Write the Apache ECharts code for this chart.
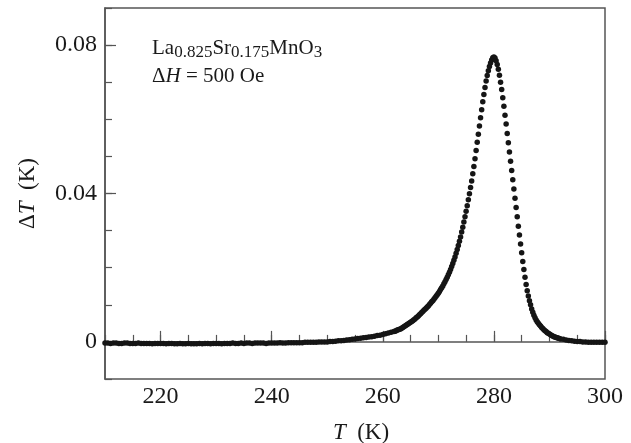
<!DOCTYPE html>
<html>
<head>
<meta charset="utf-8">
<script src="https://cdn.jsdelivr.net/npm/echarts@6/dist/echarts.min.js"></script>
<style>html,body{margin:0;padding:0;background:#fff}#c{width:631px;height:443px}</style>
</head>
<body>
<div id="c"></div>
<script>
// Temperatures (K)
var temps = [
210,210.5,211,211.5,212,212.5,213,213.5,214,214.5,215,215.5,216,216.5,217,217.5,218,218.5,219,219.5,
220,220.5,221,221.5,222,222.5,223,223.5,224,224.5,225,225.5,226,226.5,227,227.5,228,228.5,229,229.5,
230,230.5,231,231.5,232,232.5,233,233.5,234,234.5,235,235.5,236,236.5,237,237.5,238,238.5,239,239.5,
240,240.5,241,241.5,242,242.5,243,243.5,244,244.5,245,245.5,246,246.5,247,247.5,248,248.5,249,249.5,
250,250.5,251,251.5,252,252.5,253,253.5,254,254.5,255,255.5,256,256.5,257,257.5,258,258.5,259,259.5,
260,260.5,261,261.5,
262,262.2,262.4,262.6,262.8,263,263.2,263.4,263.6,263.8,264,264.2,264.4,264.6,264.8,265,265.2,265.4,265.6,265.8,
266,266.2,266.4,266.6,266.8,267,267.2,267.4,267.6,267.8,268,268.2,268.4,268.6,268.8,269,269.2,269.4,269.6,269.8,
270,270.2,270.4,270.6,270.8,271,271.2,271.4,271.6,271.8,272,272.2,272.4,272.6,272.8,273,273.2,273.4,273.6,273.8,
274,274.2,274.4,274.6,274.8,275,275.2,275.4,275.6,275.8,276,276.2,276.4,276.6,276.8,277,277.2,277.4,277.6,277.8,
278,278.2,278.4,278.6,278.8,279,279.2,279.4,279.6,279.8,280,
280.2,280.4,280.6,280.8,281,281.2,281.4,281.6,281.8,282,282.2,282.4,282.6,282.8,283,283.2,283.4,283.6,283.8,284,
284.2,284.4,284.6,284.8,285,285.2,285.4,285.6,285.8,286,286.2,286.4,286.6,286.8,287,287.2,287.4,287.6,287.8,288,
288.2,288.4,288.6,288.8,289,289.2,289.4,289.6,289.8,290,290.2,290.4,290.6,290.8,291,291.2,291.4,291.6,291.8,292,
292.5,293,293.5,294,294.5,295,295.5,296,296.5,297,297.5,298,298.5,299,299.5,300
];
// Temperature change ΔT (K)
var deltaT = [
-0.0003,-0.0003,-0.0004,-0.0003,-0.0003,-0.0004,-0.0004,-0.0003,-0.0003,-0.0004,-0.0004,-0.0004,-0.0003,-0.0004,-0.0004,-0.0004,-0.0004,-0.0005,-0.0004,-0.0004,
-0.0004,-0.0004,-0.0005,-0.0004,-0.0004,-0.0005,-0.0005,-0.0004,-0.0005,-0.0005,-0.0004,-0.0005,-0.0005,-0.0005,-0.0004,-0.0005,-0.0004,-0.0004,-0.0005,-0.0004,
-0.0004,-0.0004,-0.0005,-0.0004,-0.0004,-0.0004,-0.0003,-0.0004,-0.0004,-0.0003,-0.0004,-0.0003,-0.0003,-0.0004,-0.0003,-0.0003,-0.0003,-0.0003,-0.0004,-0.0003,
-0.0003,-0.0003,-0.0003,-0.0002,-0.0003,-0.0003,-0.0002,-0.0002,-0.0002,-0.0002,-0.0002,-0.0002,-0.0001,-0.0001,-0.0001,-0.0001,-0.0001,0.0000,0.0000,0.0000,
0.0000,0.0001,0.0001,0.0002,0.0003,0.0003,0.0004,0.0005,0.0006,0.0007,0.0008,0.0009,0.0010,0.0011,0.0012,0.0013,0.0014,0.0015,0.0017,0.0018,
0.0020,0.0022,0.0024,0.0026,
0.0028,0.0029,0.0030,0.0032,0.0033,0.0034,0.0035,0.0037,0.0039,0.0041,0.0043,0.0045,0.0047,0.0049,0.0051,0.0053,0.0055,0.0057,0.0060,0.0062,
0.0065,0.0067,0.0070,0.0073,0.0076,0.0079,0.0082,0.0085,0.0088,0.0091,0.0094,0.0097,0.0101,0.0104,0.0108,0.0111,0.0115,0.0119,0.0123,0.0127,
0.0131,0.0136,0.0141,0.0146,0.0151,0.0157,0.0162,0.0168,0.0174,0.0181,0.0188,0.0195,0.0203,0.0211,0.0220,0.0229,0.0239,0.0249,0.0260,0.0271,
0.0283,0.0296,0.0309,0.0323,0.0337,0.0352,0.0367,0.0383,0.0399,0.0416,0.0434,0.0453,0.0473,0.0494,0.0516,0.0538,0.0560,0.0582,0.0604,0.0626,
0.0647,0.0667,0.0686,0.0703,0.0718,0.0731,0.0742,0.0752,0.0760,0.0766,0.0768,
0.0765,0.0758,0.0748,0.0735,0.0719,0.0700,0.0680,0.0658,0.0635,0.0611,0.0587,0.0562,0.0537,0.0512,0.0487,0.0462,0.0437,0.0412,0.0387,0.0362,
0.0337,0.0312,0.0288,0.0264,0.0240,0.0217,0.0195,0.0174,0.0155,0.0138,0.0124,0.0111,0.0100,0.0089,0.0080,0.0072,0.0065,0.0059,0.0054,0.0050,
0.0046,0.0043,0.0039,0.0036,0.0033,0.0030,0.0028,0.0025,0.0023,0.0021,0.0019,0.0017,0.0016,0.0014,0.0013,0.0012,0.0011,0.0010,0.0009,0.0008,
0.0007,0.0005,0.0004,0.0003,0.0002,0.0001,0.0001,0.0000,0.0000,-0.0001,-0.0001,-0.0001,-0.0001,-0.0001,-0.0001,-0.0001
];
var xMajorTicks = [220, 240, 260, 280, 300];
var yMajorTicks = [0, 0.04, 0.08];

var FONT = '"Liberation Serif","Times New Roman",serif';
var AX = '#555';
var TXT = '#1a1a1a';

var points = temps.map(function (t, i) { return [t, deltaT[i]]; });

var chart = echarts.init(document.getElementById('c'), null, {renderer: 'canvas'});
chart.setOption({
  animation: false,
  backgroundColor: '#fff',
  grid: {left: 105, right: 26, top: 8, bottom: 64, show: true, borderColor: AX, borderWidth: 1.5,
    containLabel: false, outerBoundsMode: 'none'},
  xAxis: [{
    type: 'value', min: 210, max: 300, interval: 5, position: 'bottom',
    axisLine: {show: true, lineStyle: {color: AX, width: 1.5}},
    axisTick: {show: true, inside: true, length: 7, lineStyle: {color: AX, width: 1.2}},
    axisLabel: {show: false}, splitLine: {show: false}
  }, {
    type: 'value', min: 210, max: 300, position: 'bottom',
    axisLine: {show: false},
    axisTick: {show: true, inside: true, length: 11, customValues: xMajorTicks, lineStyle: {color: AX, width: 1.2}},
    axisLabel: {show: true, customValues: xMajorTicks, fontFamily: FONT, fontSize: 24, color: TXT, margin: 6},
    splitLine: {show: false},
    name: '{i|T}  (K)', nameLocation: 'middle', nameGap: 42,
    nameTextStyle: {fontFamily: FONT, fontSize: 23, color: TXT, padding: [0, 0, 0, 12],
      rich: {i: {fontFamily: FONT, fontSize: 23, fontStyle: 'italic', color: TXT}}}
  }],
  yAxis: [{
    type: 'value', min: -0.01, max: 0.09, interval: 0.01, position: 'left',
    axisLine: {show: true, lineStyle: {color: AX, width: 1.5}},
    axisTick: {show: true, inside: true, length: 7, lineStyle: {color: AX, width: 1.2}},
    axisLabel: {show: false}, splitLine: {show: false}
  }, {
    type: 'value', min: -0.01, max: 0.09, position: 'left',
    axisLine: {show: false},
    axisTick: {show: true, inside: true, length: 11, customValues: yMajorTicks, lineStyle: {color: AX, width: 1.2}},
    axisLabel: {show: true, customValues: yMajorTicks, fontFamily: FONT, fontSize: 24, color: TXT, margin: 8},
    splitLine: {show: false},
    name: '\u0394{i|T}  (K)', nameLocation: 'middle', nameGap: 66,
    nameTextStyle: {fontFamily: FONT, fontSize: 23, color: TXT,
      rich: {i: {fontFamily: FONT, fontSize: 23, fontStyle: 'italic', color: TXT}}}
  }],
  graphic: [{
    type: 'text', left: 152, top: 38,
    style: {
      text: '{n|La}{s|0.825}{n|Sr}{s|0.175}{n|MnO}{s|3}',
      fill: TXT,
      rich: {
        n: {fontFamily: FONT, fontSize: 21, lineHeight: 26, fill: TXT},
        s: {fontFamily: FONT, fontSize: 17, lineHeight: 14, verticalAlign: 'bottom', fill: TXT}
      }
    }
  }, {
    type: 'text', left: 152, top: 66,
    style: {
      text: '{n|\u0394}{i|H}{n| = 500 Oe}',
      fill: TXT,
      rich: {
        n: {fontFamily: FONT, fontSize: 21, lineHeight: 26, fill: TXT},
        i: {fontFamily: FONT, fontSize: 21, lineHeight: 26, fontStyle: 'italic', fill: TXT}
      }
    }
  }],
  series: [{
    type: 'scatter', xAxisIndex: 0, yAxisIndex: 0,
    data: points, symbol: 'circle', symbolSize: 5.5,
    itemStyle: {color: '#151515', opacity: 1},
    silent: true
  }]
});
</script>
</body>
</html>
